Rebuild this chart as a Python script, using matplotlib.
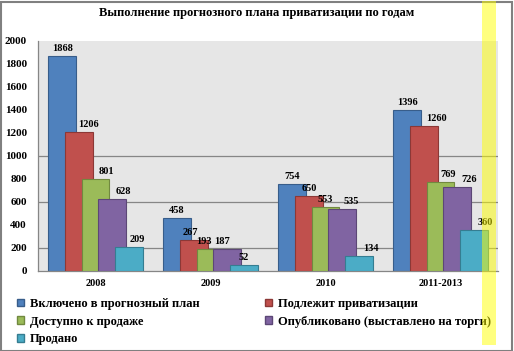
import matplotlib
matplotlib.use("Agg")
import matplotlib.pyplot as plt
import numpy as np
from matplotlib.patches import Patch, Rectangle

# ---- data ----
title = "Выполнение прогнозного плана приватизации по годам"
categories = ["2008", "2009", "2010", "2011-2013"]
series_names = [
    "Включено в прогнозный план",
    "Подлежит приватизации",
    "Доступно к продаже",
    "Опубликовано (выставлено на торги)",
    "Продано",
]
included = [1868, 458, 754, 1396]
to_privatize = [1206, 267, 650, 1260]
available = [801, 193, 553, 769]
published = [628, 187, 535, 726]
sold = [209, 52, 134, 360]
y_ticks = list(range(0, 2001, 200))

# ---- style ----
colors = ["#4F81BD", "#C0504D", "#9BBB59", "#8064A2", "#4BACC6"]
edges = ["#385D8A", "#8C3836", "#71893F", "#5C4776", "#357D91"]
# label horizontal nudges in pixels (Excel's overlap avoidance)
label_dx = [
    [0, 0, 0, 0],
    [10, -3, 0, 13],
    [11, -7, 0, 8],
    [11, -5, 9, 12],
    [8, 0, 12, 11],
]
FONT = ["Liberation Serif", "DejaVu Serif"]

fig = plt.figure(figsize=(5.14, 3.51), dpi=100)
W, H = 514, 351
ax = fig.add_axes([38 / W, 1 - 271 / H, 460 / W, 230.5 / H])
ax.set_facecolor("#E6E6E6")

values = [included, to_privatize, available, published, sold]
x = np.arange(len(categories))
step = 0.145
width = 0.243
for i, vals in enumerate(values):
    xs = x + (i - 2) * step
    ax.bar(xs, vals, width=width, color=colors[i], edgecolor=edges[i],
           linewidth=0.8, zorder=2 + i, label=series_names[i])
    for j, (bx, v) in enumerate(zip(xs, vals)):
        ax.annotate(str(v), (bx, v), xytext=(label_dx[i][j], 3),
                    textcoords="offset pixels", ha="center", va="bottom",
                    fontsize=7.5, fontweight="bold", family=FONT, zorder=10)

for gy in [200, 600, 1000]:
    ax.axhline(gy, color="#868686", lw=0.9, zorder=1)

ax.set_xlim(-0.5, len(categories) - 0.5)
ax.set_ylim(0, 2000)
ax.set_yticks(y_ticks)
ax.set_yticklabels([str(t) for t in y_ticks], fontsize=8, fontweight="bold", family=FONT)
ax.set_xticks(x)
ax.set_xticklabels(categories, fontsize=7.5, fontweight="bold", family=FONT)
ax.tick_params(axis="y", length=0, pad=8)
ax.tick_params(axis="x", length=0, pad=6)
for s in ["top", "right"]:
    ax.spines[s].set_visible(False)
for s in ["left", "bottom"]:
    ax.spines[s].set_color("#868686")
    ax.spines[s].set_linewidth(0.9)

fig.text(0.5, 1 - 13 / H, title, ha="center", va="center", fontsize=9,
         fontweight="bold", family=FONT)

handles = [Patch(facecolor=colors[i], edgecolor=edges[i], label=series_names[i]) for i in range(5)]
order = [0, 2, 4, 1, 3]
fig.legend([handles[k] for k in order], [series_names[k] for k in order],
           ncol=2, loc="upper left", bbox_to_anchor=(17 / W, 1 - 298 / H),
           frameon=False, prop={"family": FONT, "size": 9.0, "weight": "bold"},
           handlelength=0.55, handleheight=0.55, handletextpad=0.45,
           columnspacing=5.3, labelspacing=0.45, borderpad=0, borderaxespad=0)

# figure border
fig.add_artist(Rectangle((0.5 / W, 0.5 / H), 1 - 2.5 / W, 1 - 2.5 / H,
                         transform=fig.transFigure, fill=False,
                         edgecolor="#808080", lw=1.5, zorder=20))
# yellow highlight band
fig.add_artist(Rectangle((482 / W, 6 / H), 14 / W, 1 - 7 / H,
                         transform=fig.transFigure, facecolor="#FFFF00",
                         alpha=0.5, edgecolor="none", zorder=30))

fig.savefig("out.png", dpi=100)
